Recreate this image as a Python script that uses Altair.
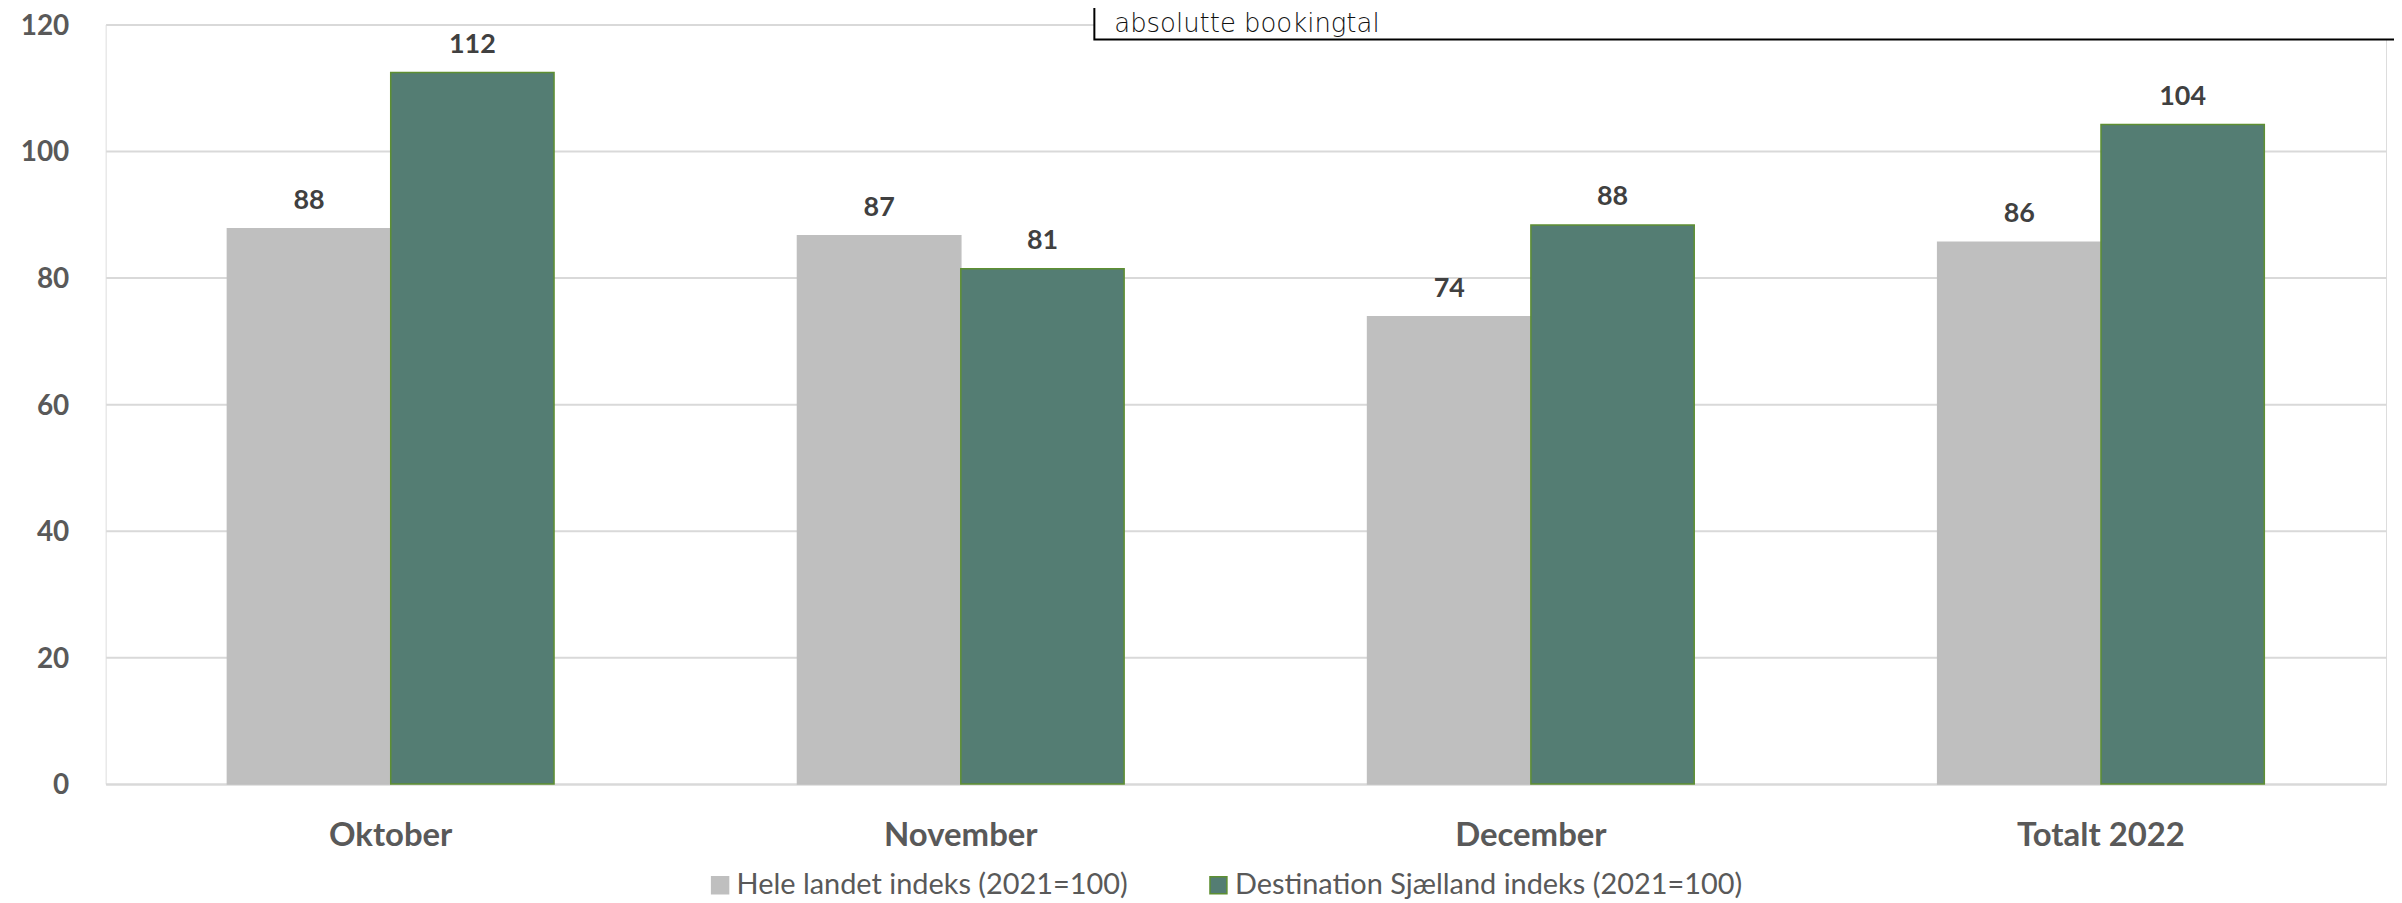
import altair as alt
import pandas as pd

categories = ["Oktober", "November", "December", "Totalt 2022"]
series_names = ["Hele landet indeks (2021=100)", "Destination Sjælland indeks (2021=100)"]
hele_landet = [87.7, 86.6, 73.8, 85.6]
destination = [112.4, 81.4, 88.3, 104.2]
y_ticks = [0, 20, 40, 60, 80, 100, 120]
note_text = "absolutte bookingtal"

rows = []
for c, v in zip(categories, hele_landet):
    rows.append({"kategori": c, "serie": series_names[0], "vaerdi": v})
for c, v in zip(categories, destination):
    rows.append({"kategori": c, "serie": series_names[1], "vaerdi": v})
df = pd.DataFrame(rows)

FONT = "Lato"
W, H = 2288, 762

x_enc = alt.X("kategori:N", sort=categories, title=None,
              scale=alt.Scale(paddingInner=0.427, paddingOuter=0.2135),
              axis=alt.Axis(labelAngle=0, ticks=False, domain=True, domainColor="#d9d9d9",
                            domainWidth=2, labelFont=FONT, labelFontSize=33,
                            labelFontWeight="bold", labelColor="#595959", labelPadding=36,
                            grid=False))
xoff = alt.XOffset("serie:N", sort=series_names, scale=alt.Scale(paddingInner=0, paddingOuter=0))
y_enc = alt.Y("vaerdi:Q", title=None,
              scale=alt.Scale(domain=[0, 120], nice=False, zero=True),
              axis=alt.Axis(values=y_ticks, ticks=False, domain=False, grid=True,
                            gridColor="#d9d9d9", gridWidth=2, labelFont=FONT,
                            labelFontSize=28, labelFontWeight="bold", labelColor="#595959",
                            labelPadding=37, labelBaseline="alphabetic", labelOffset=10))

color_scale = alt.Scale(domain=series_names, range=["#bfbfbf", "#547d73"])
stroke_scale = alt.Scale(domain=series_names, range=["#bfbfbf", "#5e8f32"])

legend = alt.Legend(title=None, orient="none", direction="horizontal",
                    legendX=602, legendY=849, symbolType="square", symbolSize=289,
                    symbolStrokeWidth=1.5, labelFont=FONT, labelFontSize=29,
                    labelColor="#595959", columnPadding=76, labelOffset=2,
                    labelLimit=1000, padding=0)

bars = alt.Chart(df).mark_bar(strokeWidth=1.5).encode(
    x=x_enc,
    xOffset=xoff,
    y=y_enc,
    color=alt.Color("serie:N", scale=color_scale, legend=legend, sort=series_names),
    stroke=alt.Stroke("serie:N", scale=stroke_scale, legend=legend, sort=series_names),
)

labels = alt.Chart(df).mark_text(font=FONT, fontSize=27, fontWeight="bold",
                                 color="#404040", baseline="alphabetic", dy=-20).encode(
    x=alt.X("kategori:N", sort=categories),
    xOffset=alt.XOffset("serie:N", sort=series_names),
    y="vaerdi:Q",
    text=alt.Text("vaerdi:Q", format=".0f"),
)

note_df = pd.DataFrame({"tekst": [note_text]})
box = alt.Chart(note_df).mark_rect(fill="white", stroke="black", strokeWidth=2).encode(
    x=alt.value(992), x2=alt.value(2400), y=alt.value(-40), y2=alt.value(15)
)
note = alt.Chart(note_df).mark_text(font="DejaVu Sans", fontSize=26, fontWeight=200,
                                    color="#111111", align="left",
                                    baseline="alphabetic").encode(
    x=alt.value(1012), y=alt.value(8), text="tekst:N"
)

chart = alt.layer(bars, labels, box, note).properties(
    width=W, height=H,
    autosize=alt.AutoSizeParams(type="none"),
    padding={"left": 98, "top": 15, "right": 8, "bottom": 118},
).configure_view(stroke=None).configure(background="white")

chart.save("out.html", embed_options={"renderer": "svg", "actions": False})
